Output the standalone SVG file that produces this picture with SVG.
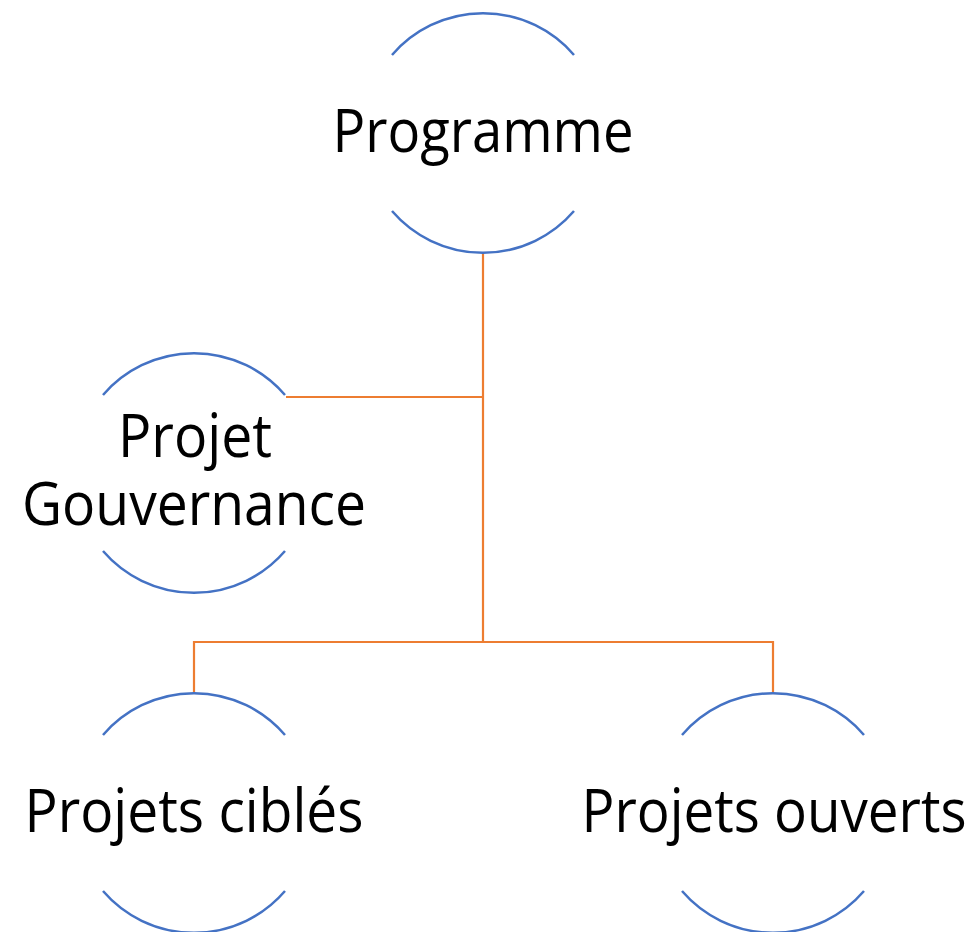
<svg xmlns="http://www.w3.org/2000/svg" width="976" height="932" viewBox="0 0 976 932">
<style>
.arc{fill:none;stroke:#4472C4;stroke-width:2.5}
.con{fill:none;stroke:#ED7D31;stroke-width:2.2}
.lbl{font-family:"Open Sans","Noto Sans","Liberation Sans",sans-serif;font-size:60px;fill:#000;text-anchor:middle}
</style>
<rect width="976" height="932" fill="#fff"/>
<g id="connectors">
<path class="con" d="M483 253 V642"/>
<path class="con" d="M286 397 H483"/>
<path class="con" d="M194 693 V642 H773 V693"/>
</g>
<g id="programme">
<path class="arc" d="M392 55 A120 120 0 0 1 574 55"/>
<path class="arc" d="M392 211 A120 120 0 0 0 574 211"/>
<text class="lbl" x="483" y="152" textLength="301" lengthAdjust="spacingAndGlyphs">Programme</text>
</g>
<g id="projet-gouvernance">
<path class="arc" d="M103 395 A120 120 0 0 1 285 395"/>
<path class="arc" d="M103 551 A120 120 0 0 0 285 551"/>
<text class="lbl" x="195" y="457" textLength="154" lengthAdjust="spacingAndGlyphs">Projet</text>
<text class="lbl" x="194" y="525" textLength="344" lengthAdjust="spacingAndGlyphs">Gouvernance</text>
</g>
<g id="projets-cibles">
<path class="arc" d="M103 735 A120 120 0 0 1 285 735"/>
<path class="arc" d="M103 891 A120 120 0 0 0 285 891"/>
<text class="lbl" x="194" y="832" textLength="339" lengthAdjust="spacingAndGlyphs">Projets ciblés</text>
</g>
<g id="projets-ouverts">
<path class="arc" d="M682 735 A120 120 0 0 1 864 735"/>
<path class="arc" d="M682 891 A120 120 0 0 0 864 891"/>
<text class="lbl" x="774" y="832" textLength="385" lengthAdjust="spacingAndGlyphs">Projets ouverts</text>
</g>
</svg>
